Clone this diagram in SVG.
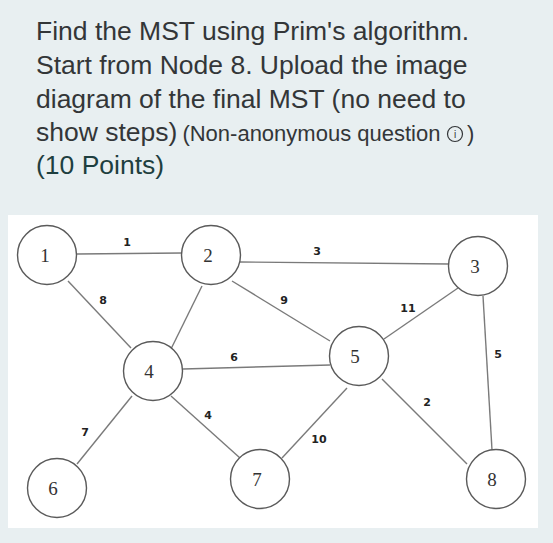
<svg xmlns="http://www.w3.org/2000/svg" width="553" height="543" viewBox="0 0 553 543">
<style>
.hd{font-family:"Liberation Sans",Arial,sans-serif;font-size:26.5px;fill:#333638}
.sm{font-family:"Liberation Sans",Arial,sans-serif;font-size:22px;fill:#333638}
.pt{font-family:"Liberation Sans",Arial,sans-serif;font-size:26.5px;fill:#1e3f3f}
.edge{stroke:#7a7a7a;stroke-width:1.4;fill:none}
.node circle{fill:#fff;stroke:#5a5a5a;stroke-width:1.4}
.node text{font-family:"Liberation Serif","Times New Roman",serif;font-size:19px;fill:#333;text-anchor:middle}
.wl{font-family:"DejaVu Sans",sans-serif;font-weight:bold;font-size:11px;fill:#222;text-anchor:middle}
</style>
<rect x="0" y="0" width="553" height="543" fill="#e8eff1"/>
<rect x="8" y="215" width="530" height="313" fill="#fff"/>
<g id="header">
<text class="hd" x="36" y="40">Find the MST using Prim's algorithm.</text>
<text class="hd" x="36" y="74">Start from Node 8. Upload the image</text>
<text class="hd" x="36" y="108">diagram of the final MST (no need to</text>
<text class="hd" x="36" y="141">show steps)<tspan class="sm" dx="5">(Non-anonymous question</tspan></text>
<circle cx="455" cy="134" r="7.5" fill="none" stroke="#333638" stroke-width="1.2"/>
<text x="455" y="138" style="font-family:'Liberation Sans',sans-serif;font-size:10px;fill:#333638;text-anchor:middle">i</text>
<text class="sm" x="467" y="141">)</text>
<text class="pt" x="36" y="174">(10 Points)</text>
</g>
<g id="connectors">
<line class="edge" x1="77" y1="254" x2="182" y2="253"/>
<line class="edge" x1="240" y1="262" x2="449" y2="264"/>
<line class="edge" x1="68" y1="281" x2="131" y2="348"/>
<line class="edge" x1="202" y1="286" x2="170" y2="351"/>
<line class="edge" x1="232" y1="281" x2="330" y2="341"/>
<line class="edge" x1="183" y1="369" x2="330" y2="365"/>
<line class="edge" x1="458" y1="288" x2="384" y2="339"/>
<line class="edge" x1="483" y1="296" x2="492" y2="450"/>
<line class="edge" x1="382" y1="379" x2="467" y2="464"/>
<line class="edge" x1="347" y1="388" x2="282" y2="458"/>
<line class="edge" x1="132" y1="396" x2="77" y2="464"/>
<line class="edge" x1="171" y1="396" x2="240" y2="458"/>
<text class="wl" x="127" y="246">1</text>
<text class="wl" x="317" y="255">3</text>
<text class="wl" x="103" y="304">8</text>
<text class="wl" x="284" y="304">9</text>
<text class="wl" x="234" y="361">6</text>
<text class="wl" x="408" y="312">11</text>
<text class="wl" x="498" y="358">5</text>
<text class="wl" x="427" y="406">2</text>
<text class="wl" x="319" y="443">10</text>
<text class="wl" x="85" y="436">7</text>
<text class="wl" x="208" y="419">4</text>
</g>
<g id="n1" class="node"><circle cx="47" cy="255" r="29.5"/><text x="45" y="262">1</text></g>
<g id="n2" class="node"><circle cx="211" cy="255" r="29.5"/><text x="208" y="262">2</text></g>
<g id="n3" class="node"><circle cx="478" cy="266" r="29.5"/><text x="475" y="273">3</text></g>
<g id="n4" class="node"><circle cx="153" cy="371" r="29.5"/><text x="149" y="378">4</text></g>
<g id="n5" class="node"><circle cx="359" cy="356" r="29.5"/><text x="355" y="363">5</text></g>
<g id="n6" class="node"><circle cx="57" cy="488" r="29.5"/><text x="53" y="495">6</text></g>
<g id="n7" class="node"><circle cx="260" cy="479" r="29.5"/><text x="257" y="486">7</text></g>
<g id="n8" class="node"><circle cx="496" cy="479" r="29.5"/><text x="492" y="486">8</text></g>
</svg>
